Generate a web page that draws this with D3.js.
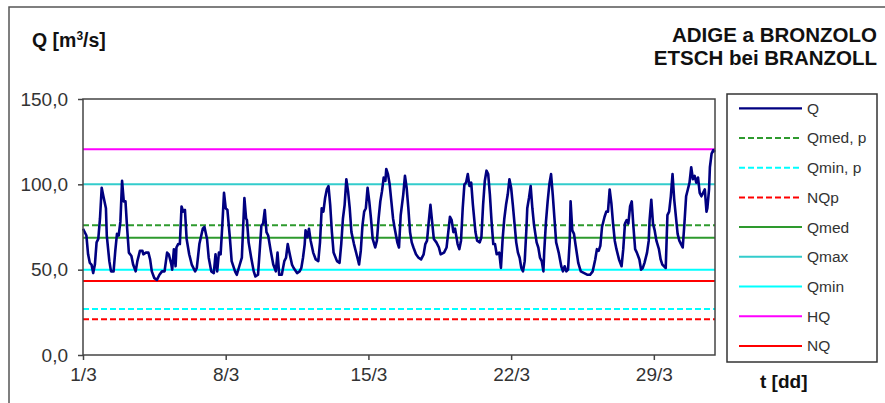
<!DOCTYPE html>
<html>
<head>
<meta charset="utf-8">
<script src="https://cdn.jsdelivr.net/npm/d3@7"></script>
<style>
  html, body { margin: 0; padding: 0; background: #fff; }
  svg { display: block; font-family: "Liberation Sans", Arial, sans-serif; }
</style>
</head>
<body>
<svg id="chart" width="885" height="403"></svg>
<script>
// ---------------- DATA ----------------
// Q series: hours since 1/3 00:00 and discharge (m3/s)
const qHours = [
  0,4,6,8,10,12,14,16,18,20,22,24,27,28,31,33,36,38,40,42,
  44,46,48,50,52,54,57,59,62,64,67,70,71,74,77,79,81,84,87,90,
  93,96,99,101,104,105,107,109,110,112,114,116,118,120,122,125,128,132,134,137,
  141,143,146,148,151,154,156,158,160,162,164,166,168,170,173,175,179,181,184,187,
  190,192,193,195,198,201,203,206,208,210,212,214,216,218,221,224,227,229,231,234,
  237,239,241,243,246,248,252,255,257,259,261,262,264,266,268,271,274,277,279,281,
  283,285,287,289,291,293,295,299,302,304,306,308,310,312,314,316,319,322,325,327,
  329,331,333,335,337,339,341,344,346,348,350,352,354,356,357,359,361,363,365,367,
  370,372,
  374,377,379,381,383,385,387,389,392,395,398,401,403,405,407,409,411,413,416,419,
  421,425,428,430,432,434,436,438,441,443,445,447,449,451,453,455,457,459,462,464,
  467,469,471,473,475,477,479,481,483,485,487,490,492,494,496,498,500,502,504,506,
  508,510,512,514,516,518,520,522,523,525,527,529,531,534,536,538,540,542,543,545,
  547,549,551,553,555,557,
  558,560,563,565,567,569,571,573,574,576,578,580,583,586,590,594,597,600,603,605,
  607,609,611,614,616,618,620,622,624,626,628,631,634,636,638,640,642,644,646,648,
  650,652,655,657,659,661,664,666,667,669,671,673,675,678,680,682,684,686,688,690,
  692,694,696,698,700,702,704,706,708,710,712,714,716,718,720,722,724,726,728,730,
  732,734,735,737,738,740,742,744
];
const qValues = [
  74,70,59,54,53,48,53,66,68,80,98,93,86,70,55,49,49,61,71,70,
  78,102,90,90,74,60,58,53,49,55,61,61,59,60,60,56,49,45,44,47,
  49,49,60,59,53,50,62,52,63,65,65,87,84,85,68,59,53,49,51,65,
  74,75,68,57,49,48,59,49,60,59,76,95,86,85,68,55,49,47,52,57,
  92,80,79,66,57,49,46,47,61,76,77,85,72,70,61,53,49,60,47,47,
  55,57,65,60,53,51,48,49,51,57,65,73,69,74,67,60,56,55,66,86,
  84,92,97,99,88,72,60,55,54,65,80,88,103,96,86,72,65,59,53,61,
  76,84,86,98,90,80,68,63,67,80,90,96,104,102,109,106,100,90,80,74,
  66,63,
  82,94,105,98,86,72,66,63,59,57,56,59,65,67,78,88,78,68,66,63,
  59,60,63,72,81,79,72,74,65,62,67,86,100,101,106,99,101,88,72,67,
  66,69,88,102,108,106,94,78,65,65,59,60,51,68,80,88,94,103,98,88,
  77,66,60,57,51,49,55,74,86,92,99,86,76,66,63,57,55,49,61,78,
  90,100,106,94,80,66,
  64,60,52,49,52,49,50,67,90,73,71,64,54,49,48,47,47,49,56,62,
  61,64,75,81,84,84,97,89,77,67,62,56,52,62,77,79,77,87,90,75,
  62,60,56,50,51,54,60,67,79,91,77,73,67,62,56,53,52,51,82,84,
  93,106,91,81,71,67,65,63,77,93,97,101,110,103,105,101,104,95,93,95,
  97,84,86,97,110,118,120,119
];

// Reference levels (m3/s)
const refNames  = ["Qmed, p", "Qmin, p", "NQp", "Qmed", "Qmax", "Qmin", "HQ", "NQ"];
const refValues = [76, 27, 21, 68.7, 100, 50, 120.5, 43.4];

// Legend order
const legendNames = ["Q", "Qmed, p", "Qmin, p", "NQp", "Qmed", "Qmax", "Qmin", "HQ", "NQ"];

// Axis ticks
const yTicks = [0, 50, 100, 150];
const xTickDays = [1, 8, 15, 22, 29];
const xTickLabels = ["1/3", "8/3", "15/3", "22/3", "29/3"];

// ---------------- STYLES ----------------
const styles = {
  "Q":       { color: "#000080", dash: null, width: 2.6 },
  "Qmed, p": { color: "#2e9a2e", dash: "6,3", width: 2 },
  "Qmin, p": { color: "#00ffff", dash: "6,3", width: 2 },
  "NQp":     { color: "#ff0000", dash: "6,3", width: 2 },
  "Qmed":    { color: "#2e9a2e", dash: null, width: 2 },
  "Qmax":    { color: "#33cccc", dash: null, width: 2 },
  "Qmin":    { color: "#00ffff", dash: null, width: 2 },
  "HQ":      { color: "#ff00ff", dash: null, width: 2 },
  "NQ":      { color: "#ff0000", dash: null, width: 2 }
};

// ---------------- LAYOUT ----------------
const svg = d3.select("#chart");
const plot = { left: 83, top: 99, right: 715, bottom: 355 };

const x = d3.scaleLinear().domain([0, 744]).range([plot.left, plot.right]);
const y = d3.scaleLinear().domain([0, 150]).range([plot.bottom, plot.top]);

// outer chart border
svg.append("rect")
  .attr("x", 9).attr("y", 7).attr("width", 1000).attr("height", 1000)
  .attr("fill", "none").attr("stroke", "#555").attr("stroke-width", 1.5);

// reference lines
refNames.forEach((n, i) => {
  const s = styles[n];
  svg.append("line")
    .attr("x1", plot.left).attr("x2", plot.right)
    .attr("y1", y(refValues[i])).attr("y2", y(refValues[i]))
    .attr("stroke", s.color).attr("stroke-width", s.width)
    .attr("stroke-dasharray", s.dash);
});

// Q line
const qData = qHours.map((h, i) => [h, qValues[i]]);
svg.append("path")
  .datum(qData)
  .attr("fill", "none")
  .attr("stroke", styles.Q.color)
  .attr("stroke-width", styles.Q.width)
  .attr("stroke-linejoin", "round")
  .attr("d", d3.line().x(d => x(d[0])).y(d => y(d[1])));

// plot frame
svg.append("rect")
  .attr("x", plot.left).attr("y", plot.top)
  .attr("width", plot.right - plot.left).attr("height", plot.bottom - plot.top)
  .attr("fill", "none").attr("stroke", "#444").attr("stroke-width", 1.5);

// y axis
const fmt = v => d3.format(".1f")(v).replace(".", ",");
const yAxis = svg.append("g")
  .attr("transform", `translate(${plot.left},0)`)
  .call(d3.axisLeft(y).tickValues(yTicks).tickFormat(fmt).tickSize(5).tickPadding(10));
yAxis.select(".domain").remove();
yAxis.selectAll("line").attr("stroke", "#444").attr("stroke-width", 1.5);
yAxis.selectAll("text").attr("font-size", "19px").attr("fill", "#333")
  .attr("font-family", "Liberation Sans, Arial, sans-serif");

// x axis
const xAxis = svg.append("g")
  .attr("transform", `translate(0,${plot.bottom})`)
  .call(d3.axisBottom(x)
    .tickValues(xTickDays.map(d => (d - 1) * 24))
    .tickFormat((d, i) => xTickLabels[i])
    .tickSize(5).tickPadding(8));
xAxis.select(".domain").remove();
xAxis.selectAll("line").attr("stroke", "#444").attr("stroke-width", 1.5);
xAxis.selectAll("text").attr("font-size", "19px").attr("fill", "#333")
  .attr("font-family", "Liberation Sans, Arial, sans-serif");

// titles
const yTitle = svg.append("text")
  .attr("x", 32).attr("y", 47)
  .attr("font-size", "19.5px").attr("font-weight", "bold").attr("fill", "#111");
yTitle.append("tspan").text("Q [m");
yTitle.append("tspan").attr("dy", -7).attr("font-size", "12px").text("3");
yTitle.append("tspan").attr("dy", 7).text("/s]");

svg.append("text")
  .attr("x", 877).attr("y", 41.5).attr("text-anchor", "end")
  .attr("font-size", "20.5px").attr("font-weight", "bold").attr("fill", "#111")
  .text("ADIGE a BRONZOLO");
svg.append("text")
  .attr("x", 877).attr("y", 64.5).attr("text-anchor", "end")
  .attr("font-size", "20.5px").attr("font-weight", "bold").attr("fill", "#111")
  .text("ETSCH bei BRANZOLL");

svg.append("text")
  .attr("x", 760).attr("y", 388)
  .attr("font-size", "19px").attr("font-weight", "bold").attr("fill", "#111")
  .text("t [dd]");

// legend
const lg = svg.append("g");
lg.append("rect")
  .attr("x", 727).attr("y", 94).attr("width", 150).attr("height", 268)
  .attr("fill", "#fff").attr("stroke", "#333").attr("stroke-width", 1.5);
const ly = d3.scalePoint().domain(legendNames).range([108.3, 108.3 + 8 * 29.7]);
legendNames.forEach(n => {
  const s = styles[n];
  const yy = ly(n);
  lg.append("line")
    .attr("x1", 739).attr("x2", 802).attr("y1", yy).attr("y2", yy)
    .attr("stroke", s.color).attr("stroke-width", n === "Q" ? 2.2 : 2)
    .attr("stroke-dasharray", s.dash);
  lg.append("text")
    .attr("x", 807).attr("y", yy).attr("dy", "0.35em")
    .attr("font-size", "15.5px").attr("fill", "#333")
    .text(n);
});
</script>
</body>
</html>
